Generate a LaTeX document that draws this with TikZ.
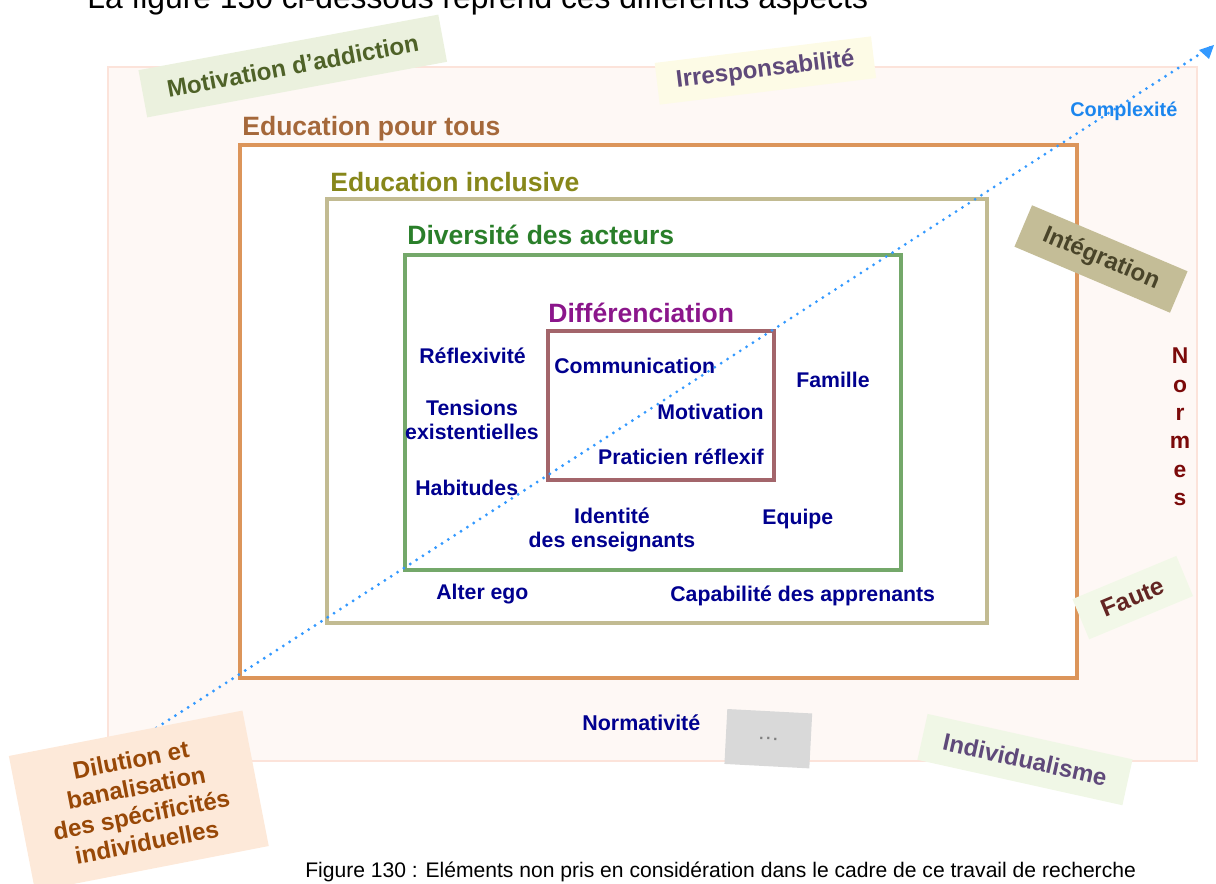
\documentclass[tikz,border=0pt]{standalone}
\usepackage{fontspec}
\setmainfont{Liberation Sans}
\usetikzlibrary{arrows.meta}
\definecolor{outerfill}{HTML}{FEF8F5}
\definecolor{outerline}{HTML}{FCE3DA}
\definecolor{educol}{HTML}{A5683A}
\definecolor{eduline}{HTML}{DC955A}
\definecolor{inclcol}{HTML}{87871A}
\definecolor{inclline}{HTML}{C2BB92}
\definecolor{divcol}{HTML}{2A7F2A}
\definecolor{divline}{HTML}{74A86A}
\definecolor{diffcol}{HTML}{8B168B}
\definecolor{diffline}{HTML}{A3656B}
\definecolor{navy}{HTML}{00008F}
\definecolor{cplx}{HTML}{1C86EE}
\definecolor{dotblue}{HTML}{3399FF}
\definecolor{normcol}{HTML}{7B0A0A}
\definecolor{motfill}{HTML}{EBF1DE}
\definecolor{mottext}{HTML}{4F6228}
\definecolor{irrfill}{HTML}{FDFBE6}
\definecolor{purp}{HTML}{5F497A}
\definecolor{intfill}{HTML}{C4BD97}
\definecolor{inttext}{HTML}{494429}
\definecolor{fautefill}{HTML}{F2F8E8}
\definecolor{fautetext}{HTML}{632523}
\definecolor{indfill}{HTML}{F0F7E6}
\definecolor{dilfill}{HTML}{FDE9D9}
\definecolor{diltext}{HTML}{984807}
\definecolor{dotsfill}{HTML}{D9D9D9}
\definecolor{dotstext}{HTML}{7F7F7F}
\begin{document}
\begin{tikzpicture}[x=0.02cm,y=-0.02cm,
  lbl/.style={font=\fontsize{15.1pt}{18pt}\selectfont\bfseries, inner sep=0pt, anchor=base west},
  inl/.style={font=\fontsize{12.1pt}{13.6pt}\selectfont\bfseries, text=navy, inner sep=0pt},
  tag/.style={inner sep=0pt, font=\fontsize{13.7pt}{15.3pt}\selectfont\bfseries},
  dotline/.style={draw=dotblue, line width=1.8pt, line cap=round, dash pattern=on 0pt off 4.3pt},
  plain/.style={inner sep=0pt, anchor=base west}
]
\useasboundingbox (0,0) rectangle (1216,884);
\clip (0,0) rectangle (1216,884);

% title (cut off at top)
\node[plain, font=\fontsize{18.1pt}{20pt}\selectfont] (title) at (87,9) {La figure 130 ci-dessous reprend ces différents aspects};

% nested frames
\node[draw=outerline, fill=outerfill, line width=1pt, minimum width=21.78cm, minimum height=13.88cm, inner sep=0pt] (outer) at (652.5,414) {};
\node[draw=eduline, fill=white, line width=2pt, minimum width=16.74cm, minimum height=10.66cm, inner sep=0pt] (edu) at (658.5,411.5) {};
\node[draw=inclline, fill=white, line width=2pt, minimum width=13.2cm, minimum height=8.48cm, inner sep=0pt] (incl) at (657,411) {};
\node[draw=divline, fill=white, line width=1.8pt, minimum width=9.92cm, minimum height=6.3cm, inner sep=0pt] (div) at (653,412.5) {};
\node[draw=diffline, fill=white, line width=2pt, minimum width=4.52cm, minimum height=2.98cm, inner sep=0pt] (diff) at (661,405.5) {};

% frame labels
\node[lbl, text=educol] (edul) at (242,136) {Education pour tous};
\node[lbl, text=inclcol] (incll) at (330,192) {Education inclusive};
\node[lbl, text=divcol] (divl) at (407,245) {Diversité des acteurs};
\node[lbl, text=diffcol] (diffl) at (548,323) {Différenciation};

% inner labels
\node[inl, anchor=base west] (refl) at (419,364) {Réflexivité};
\node[inl, align=center] (tens) at (472,420) {Tensions\\existentielles};
\node[inl, anchor=base west] (habi) at (415,496) {Habitudes};
\node[inl, anchor=base west] (comm) at (554,374) {Communication};
\node[inl, anchor=base east] (moti) at (764,420) {Motivation};
\node[inl, anchor=base east] (prat) at (764,465) {Praticien réflexif};
\node[inl, anchor=base west] (fami) at (796,388) {Famille};
\node[inl, align=center] (iden) at (612,530) {Identité\\des enseignants};
\node[inl, anchor=base west] (equi) at (762,524) {Equipe};
\node[inl, anchor=base west] (alte) at (436,599) {Alter ego};
\node[inl, anchor=base west] (capa) at (670,601) {Capabilité des apprenants};
\node[inl, anchor=base west, font=\fontsize{12.2pt}{13.6pt}\selectfont\bfseries] (norm) at (582,730) {Normativité};

% Normes vertical
\node[inner sep=0pt, anchor=north, align=center, text=normcol, font=\fontsize{13pt}{16.2pt}\selectfont\bfseries] (normes) at (1180,347.5) {N\\o\\r\\m\\e\\s};

% complexity axis
\coordinate (ds) at (150,732);
\coordinate (de) at (1214,45);
\draw[dotline] (ds) -- (de);
\fill[dotblue] (de) -- +(-15,5) -- +(-5,14) -- cycle;
\node[plain, text=cplx, font=\fontsize{11.3pt}{13pt}\selectfont\bfseries] (cplxl) at (1070,117) {Complexité};

% rotated tags
\node[tag, fill=motfill, text=mottext, minimum width=6.1cm, minimum height=0.96cm, rotate=10.5] (mot) at (292.75,66) {Motivation d’addiction};
\node[tag, fill=irrfill, text=purp, minimum width=4.36cm, minimum height=0.84cm, rotate=7] (irr) at (765.4,70.5) {Irresponsabilité};
\node[tag, fill=intfill, text=inttext, minimum width=3.38cm, minimum height=0.9cm, rotate=-23] (integ) at (1101,259) {Intégration};
\node[tag, fill=fautefill, text=fautetext, minimum width=2.25cm, minimum height=0.87cm, rotate=22.6, font=\fontsize{14pt}{16pt}\selectfont\bfseries] (faute) at (1132.75,597.6) {Faute};
\node[tag, fill=indfill, text=purp, minimum width=4.2cm, minimum height=0.94cm, rotate=-12.5] (indiv) at (1025,759.6) {Individualisme};
\node[tag, fill=dotsfill, text=dotstext, minimum width=1.7cm, minimum height=1.1cm, rotate=-3, font=\fontsize{9pt}{11pt}\selectfont\bfseries] (dots) at (768.3,738.7) {.\,.\,.};
\node[tag, fill=dilfill, text=diltext, minimum width=4.76cm, minimum height=2.76cm, rotate=11, align=center, font=\fontsize{13.7pt}{15.9pt}\selectfont\bfseries] (dil) at (138.8,801) {Dilution et\\banalisation\\des spécificités\\individuelles};

% caption
\node[plain, font=\fontsize{12pt}{14pt}\selectfont] (cap) at (305,877) {Figure 130 : Eléments non pris en considération dans le cadre de ce travail de recherche};
\end{tikzpicture}
\end{document}
